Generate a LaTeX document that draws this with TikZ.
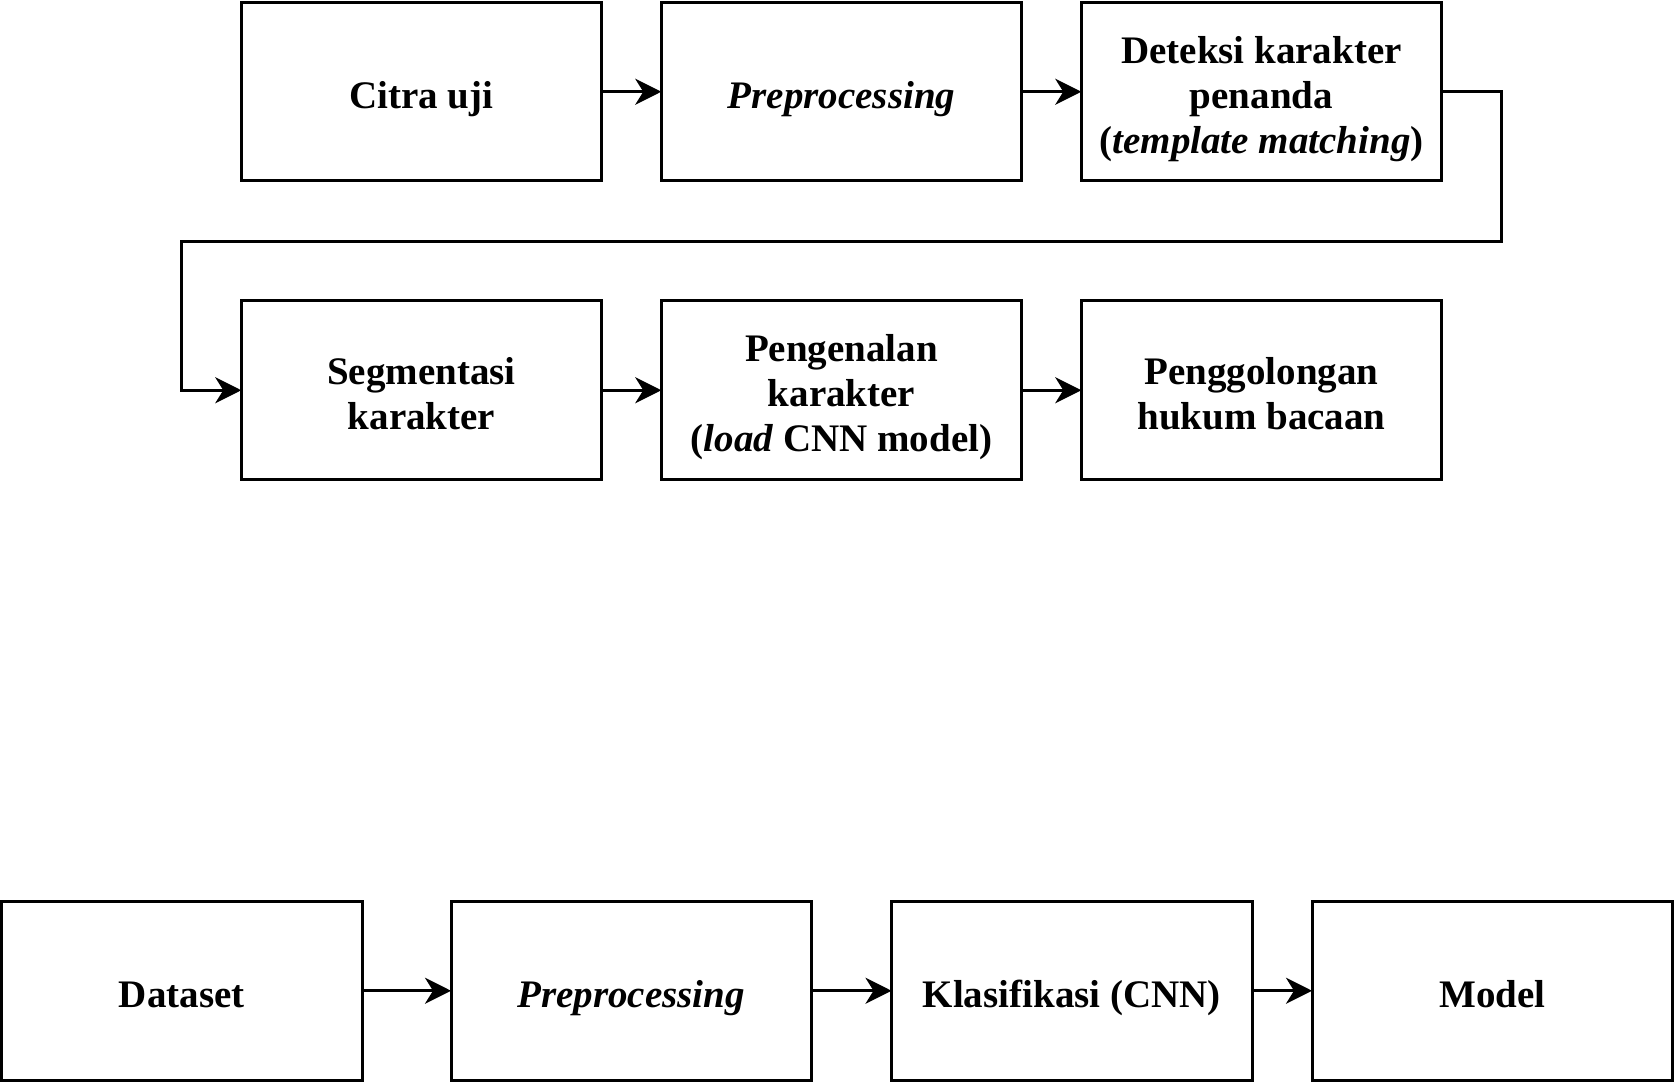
\documentclass[tikz,border=0pt]{standalone}
\usepackage{fontspec}
\setmainfont{Liberation Serif}
\usetikzlibrary{arrows.meta,positioning}

\begin{document}
\begin{tikzpicture}[x=1pt,y=-1pt,
  stepbox/.style={draw,line width=3pt,minimum width=360.5pt,minimum height=178.5pt,inner sep=0pt,outer sep=0pt,text width=355pt,align=flush center,font=\fontsize{39}{45}\selectfont\bfseries,
    execute at begin node={\rule{0pt}{43pt}},execute at end node={\rule[-10pt]{0pt}{10pt}}},
  flow/.style={line width=3pt,-{Stealth[length=26pt,width=26pt,inset=8pt]}},
  node distance=59.5pt]
\useasboundingbox (0,0) rectangle (1674,1083);
% uji
\node[stepbox] (citra) at (421.5,91.75) {Citra uji};
\node[stepbox,right=of citra] (prepuji) {\textit{Preprocessing}};
\node[stepbox,right=of prepuji] (deteksi) {Deteksi karakter\\penanda\\(\textit{template matching})};
\node[stepbox] (segmen) at (421.5,390.25) {Segmentasi\\karakter};
\node[stepbox,right=of segmen] (kenal) {Pengenalan\\karakter\\(\textit{load} CNN model)};
\node[stepbox,right=of kenal] (golong) {Penggolongan\\hukum bacaan};
\draw[flow] (citra)--(prepuji);
\draw[flow] (prepuji)--(deteksi);
\draw[flow] (deteksi.east)--++(60,0)|-(181.5,241.5)|-(segmen.west);
\draw[flow] (segmen)--(kenal);
\draw[flow] (kenal)--(golong);
% latih
\node[stepbox] (dataset) at (181.75,990.75) {Dataset};
\node[stepbox] (preplatih) at (631.25,990.75) {\textit{Preprocessing}};
\node[stepbox] (klasif) at (1071.75,990.75) {Klasifikasi (CNN)};
\node[stepbox] (model) at (1492.25,990.75) {Model};
\draw[flow] (dataset)--(preplatih);
\draw[flow] (preplatih)--(klasif);
\draw[flow] (klasif)--(model);
\end{tikzpicture}
\end{document}
